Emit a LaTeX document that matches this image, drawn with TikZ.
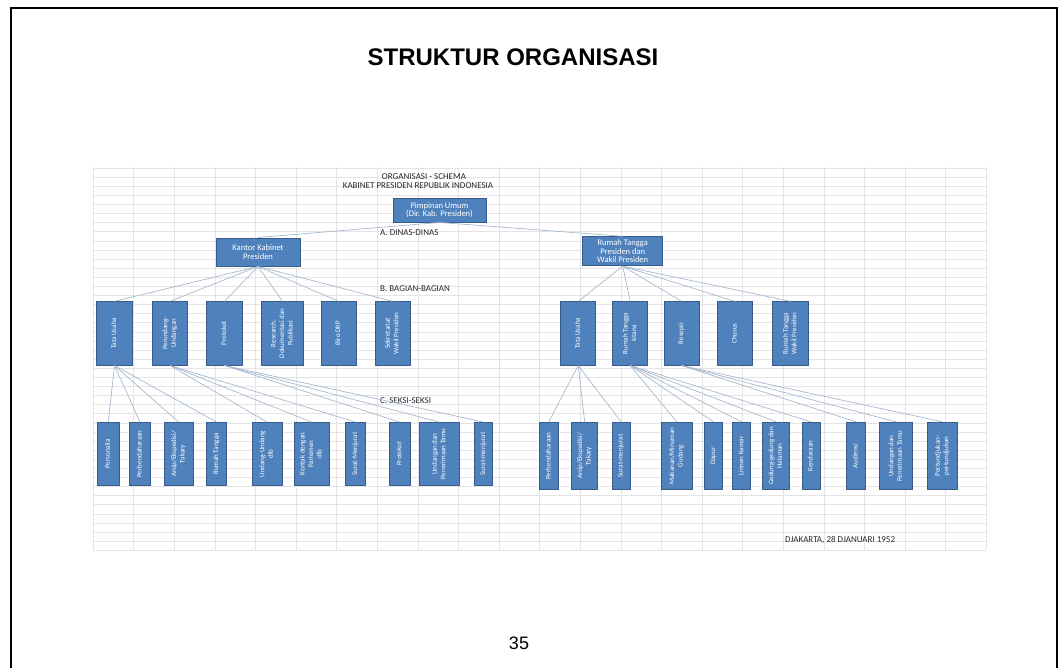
\documentclass[tikz,border=0pt]{standalone}
\usepackage{fontspec}
\setmainfont{Liberation Sans}
\newfontfamily\chartfont{Carlito}
\definecolor{boxblue}{HTML}{4F81BD}
\definecolor{boxedge}{HTML}{385D8A}
\definecolor{linkblue}{HTML}{A5B8CE}
\definecolor{gridgray}{HTML}{E4E4E4}
\def\uptext#1{\rotatebox{90}{\begin{tabular}{@{}c@{}}#1\end{tabular}}}
\tikzset{
	unit/.style={draw=boxedge, fill=boxblue, text=white, line width=0.9pt, inner sep=0pt, align=center, font=\chartfont\fontsize{8.5}{8.5}\selectfont},
	seksi/.style={unit, font=\chartfont\fontsize{7}{8.5}\selectfont},
	link/.style={draw=linkblue, line width=0.7pt},
	caption/.style={inner sep=0pt, text=black!85, font=\chartfont\fontsize{9}{9}\selectfont},
	gridline/.style={draw=gridgray, line width=0.5pt}
}

\begin{document}
\begin{tikzpicture}[x=1pt,y=-1pt]
				\useasboundingbox (0,0) rectangle (1058,667);
				\draw[line width=2pt] (10.5,670) -- (10.5,8) -- (1056.5,8) -- (1056.5,670);
				
				\node[font=\bfseries\fontsize{24}{28}\selectfont] (title) at (513,57) {STRUKTUR ORGANISASI};
				\node[font=\fontsize{18}{20}\selectfont] (page) at (519,643) {35};
				
				\foreach \i in {0,...,22}
					\draw[gridline] (93+40.6*\i,167) -- (93+40.6*\i,550);
				\foreach \j in {0,...,42}
					\draw[gridline] (93,168+9.1*\j) -- (986,168+9.1*\j);
				
				\node[caption] (schema) at (424,177) {ORGANISASI - SCHEMA};
				\node[caption] (kabinet) at (418,186) {KABINET PRESIDEN REPUBLIK INDONESIA};
				\node[caption, anchor=west] (dinas) at (380,233) {A. DINAS-DINAS};
				\node[caption, anchor=west] (bagian) at (380,289) {B. BAGIAN-BAGIAN};
				\node[caption, anchor=west] (seksi) at (380,401) {C. SEKSI-SEKSI};
				\node[caption, anchor=west] (tanggal) at (785,540) {DJAKARTA, 28 DJANUARI 1952};
				
				\node[unit, minimum width=93, minimum height=24] (pimpinan) at (439.5,210) {Pimpinan Umum\\(Dir. Kab. Presiden)};
				\node[unit, minimum width=84, minimum height=28] (kantor) at (258,252) {Kantor Kabinet\\Presiden};
				\node[unit, minimum width=80, minimum height=29] (rumah) at (622.7,251.2) {Rumah Tangga\\Presiden dan\\Wakil Presiden};
				
				\foreach \nm/\cx/\bw/\txt in {ml1/114.5/35.6/Tata Usaha, ml2/170/35.4/{Perundang-\\Undangan}, ml3/224.5/35.6/Protokol, ml4/282.5/41.6/{Research,\\Dokumentasi dan\\Publikasi}, ml5/338.5/35/Biro DKP, ml6/392.5/35/{Sekretariat\\Wakil Presiden}, mr1/578.2/35/Tata Usaha, mr2/630.2/35/{Rumah Tangga\\Istana}, mr3/681.5/35/Resepsi, mr4/734.8/35/Chusus, mr5/790.5/35.6/{Rumah Tangga\\Wakil Presiden}}
					\node[seksi, minimum width=\bw, minimum height=63.3] (\nm) at (\cx,333.4) {\uptext{\txt}};
				
				\foreach \nm/\cx/\bw/\txt in {bl1/108.2/21.7/Personalia, bl2/140/21.4/Perbendaharaan, bl3/178.7/29.3/{Arsip/Ekspedisi/\\Takary}, bl4/216.4/20.7/Rumah Tangga, bl5/267/30/{Undang-Undang\\dlb}, bl6/311.5/35/{Kontak dengan\\Parlemen\\dlb}, bl7/355.4/20.7/Surat-Menjurat, bl8/399.7/20.7/Protokol, bl9/439.3/40/{Undangan dan\\Penerimaan Tamu}, bl10/483.5/18.4/Surat-menjurat}
					\node[seksi, minimum width=\bw, minimum height=63] (\nm) at (\cx,454) {\uptext{\txt}};
				
				\foreach \nm/\cx/\bw/\txt in {br1/548.8/19/Perbendaharaan, br2/584.7/26/{Arsip/Ekspedisi/\\Takary}, br3/621/18/Surat-menjurat, br4/676.7/31.3/{Makanan/Minuman\\Gudang}, br5/713.4/18.7/Dapur, br6/741.7/18/Linnen Kamar, br7/776/26.6/{Gedung-gedung dan\\Halaman}, br8/811/18/Kendaraan, br9/856/18.6/Audiensi, br10/896/33.4/{Undangan dan\\Penerimaan Tamu}, br11/942.3/30/{Pertundjukan-\\pertundjukan}}
					\node[seksi, minimum width=\bw, minimum height=67.5] (\nm) at (\cx,456) {\uptext{\txt}};
				
				\draw[link] (pimpinan.south) -- (kantor.north);
				\draw[link] (pimpinan.south) -- (rumah.north);
				\foreach \c in {ml1,ml2,ml3,ml4,ml5,ml6}
					\draw[link] (kantor.south) -- (\c.north);
				\foreach \c in {mr1,mr2,mr3,mr4,mr5}
					\draw[link] (rumah.south) -- (\c.north);
				\foreach \c in {bl1,bl2,bl3,bl4}
					\draw[link] (ml1.south) -- (\c.north);
				\foreach \c in {bl5,bl6,bl7}
					\draw[link] (ml2.south) -- (\c.north);
				\foreach \c in {bl8,bl9,bl10}
					\draw[link] (ml3.south) -- (\c.north);
				\foreach \c in {br1,br2,br3}
					\draw[link] (mr1.south) -- (\c.north);
				\foreach \c in {br4,br5,br6,br7,br8}
					\draw[link] (mr2.south) -- (\c.north);
				\foreach \c in {br9,br10,br11}
					\draw[link] (mr3.south) -- (\c.north);
			\end{tikzpicture}
\end{document}
